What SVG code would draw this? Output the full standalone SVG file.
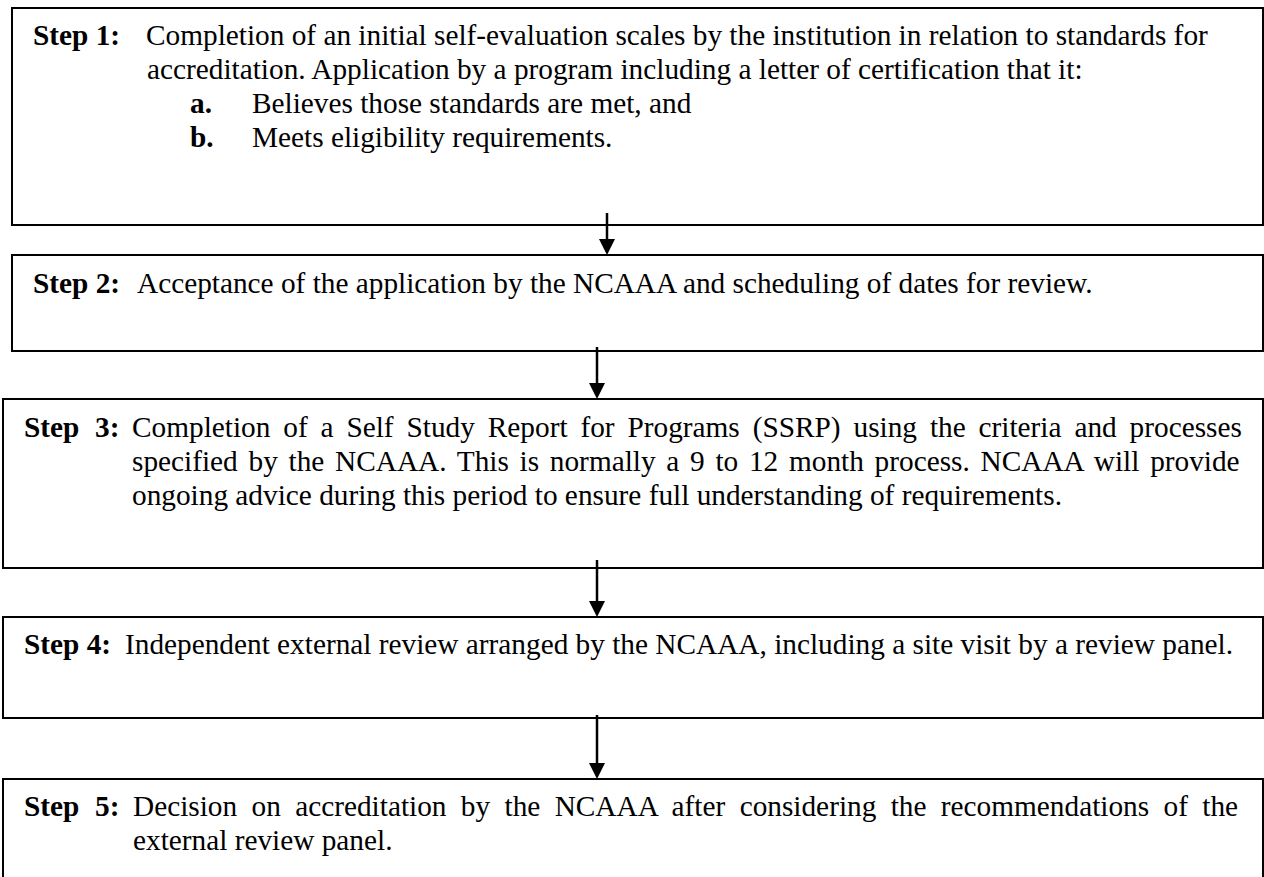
<svg xmlns="http://www.w3.org/2000/svg" width="1264" height="877" viewBox="0 0 1264 877">
<style>
.box{fill:#fff;stroke:#000;stroke-width:2}
.t{font-family:"Liberation Serif","Times New Roman",serif;font-size:29.3px;fill:#000}
.b{font-weight:bold}
.con{stroke:#000;stroke-width:2.5;fill:none}
.ah{fill:#000}
</style>
<rect width="1264" height="877" fill="#fff"/>
<g id="step1">
<rect class="box" x="12" y="8" width="1251" height="217"/>
<text class="t" x="33" y="45"><tspan class="b">Step 1:</tspan><tspan x="146">Completion of an initial self-evaluation scales by the institution in relation to standards for</tspan></text>
<text class="t" x="147" y="79">accreditation. Application by a program including a letter of certification that it:</text>
<text class="t" x="190" y="113"><tspan class="b">a.</tspan><tspan x="252">Believes those standards are met, and</tspan></text>
<text class="t" x="190" y="147"><tspan class="b">b.</tspan><tspan x="252">Meets eligibility requirements.</tspan></text>
</g>
<g id="step2">
<rect class="box" x="12" y="255" width="1251" height="96"/>
<text class="t" x="33" y="293"><tspan class="b">Step 2:</tspan><tspan x="137">Acceptance of the application by the NCAAA and scheduling of dates for review.</tspan></text>
</g>
<g id="step3">
<rect class="box" x="3" y="399" width="1260" height="169"/>
<text class="t" x="24" y="437"><tspan class="b">Step</tspan><tspan class="b" x="95">3:</tspan><tspan x="132" word-spacing="5.57">Completion of a Self Study Report for Programs (SSRP) using the criteria and processes</tspan></text>
<text class="t" x="132" y="471" word-spacing="3.41">specified by the NCAAA. This is normally a 9 to 12 month process. NCAAA will provide</text>
<text class="t" x="132" y="505">ongoing advice during this period to ensure full understanding of requirements.</text>
</g>
<g id="step4">
<rect class="box" x="3" y="617" width="1260" height="101"/>
<text class="t" x="24" y="654"><tspan class="b">Step 4:</tspan><tspan x="125">Independent external review arranged by the NCAAA, including a site visit by a review panel.</tspan></text>
</g>
<g id="step5">
<rect class="box" x="3" y="779" width="1260" height="110"/>
<text class="t" x="24" y="816"><tspan class="b">Step</tspan><tspan class="b" x="95">5:</tspan><tspan x="133" word-spacing="7.05">Decision on accreditation by the NCAAA after considering the recommendations of the</tspan></text>
<text class="t" x="133" y="850">external review panel.</text>
</g>
<g id="connectors">
<line class="con" x1="607" y1="213" x2="607" y2="242"/>
<path class="ah" d="M599,239 L615,239 L607,255 Z"/>
<line class="con" x1="597" y1="347" x2="597" y2="386"/>
<path class="ah" d="M589,383 L605,383 L597,399 Z"/>
<line class="con" x1="597" y1="560" x2="597" y2="604"/>
<path class="ah" d="M589,601 L605,601 L597,617 Z"/>
<line class="con" x1="597" y1="715" x2="597" y2="766"/>
<path class="ah" d="M589,763 L605,763 L597,779 Z"/>
</g>
</svg>
